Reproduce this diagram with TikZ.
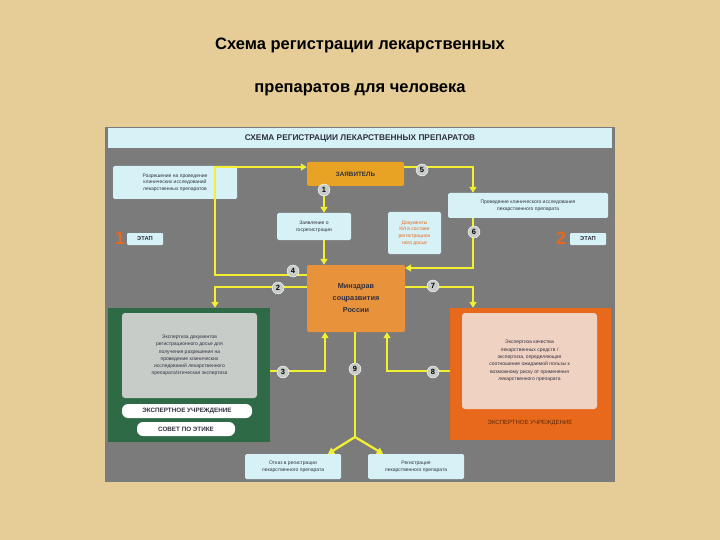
\documentclass[tikz,border=0pt]{standalone}
\usepackage{fontspec}
\setmainfont{Liberation Sans}
\usetikzlibrary{arrows.meta}
\definecolor{bg}{HTML}{E6CD98}
\definecolor{panel}{HTML}{7B7B7B}
\definecolor{lcyan}{HTML}{D6F2F6}
\definecolor{gold}{HTML}{E8A224}
\definecolor{mz}{HTML}{E8923C}
\definecolor{dgreen}{HTML}{2F6A46}
\definecolor{lgray}{HTML}{C8CCC8}
\definecolor{orng}{HTML}{E8681C}
\definecolor{pink}{HTML}{F0D2C2}
\definecolor{yel}{HTML}{F2F030}
\definecolor{txt}{HTML}{303040}
\tikzset{
 px/.style={x=1pt,y=-1pt},
 lbox/.style={fill=lcyan,rounded corners=1.5pt,align=center,text=txt,font=\fontsize{5}{6.6}\selectfont,inner sep=1pt},
 conn/.style={draw=yel,line width=2.3pt,-{Triangle[length=6pt,width=7pt]}},
 cline/.style={draw=yel,line width=2.3pt},
 num/.style={circle,fill=lgray,draw=white,line width=0.4pt,inner sep=0pt,minimum size=12pt,font=\bfseries\fontsize{7.5}{7.5}\selectfont,text=black},
 pill/.style={fill=white,rounded corners=6pt,font=\bfseries\fontsize{6.3}{6.3}\selectfont,text=txt,inner sep=0pt},
}
\begin{document}
\begin{tikzpicture}[px]
\useasboundingbox (0,0) rectangle (720,540);
\fill[bg] (0,0) rectangle (720,540);
\node[font=\bfseries\fontsize{16.5}{16.5}\selectfont] (t1) at (360,45) {Схема регистрации лекарственных};
\node[font=\bfseries\fontsize{16.5}{16.5}\selectfont] (t2) at (360,90) {препаратов для человека};
\fill[panel] (105,127) rectangle (615,482);
\node[fill=lcyan,minimum width=504pt,minimum height=20pt,inner sep=0pt,font=\bfseries\fontsize{8.3}{8.3}\selectfont,text=txt] (hdr) at (360,138) {СХЕМА РЕГИСТРАЦИИ ЛЕКАРСТВЕННЫХ ПРЕПАРАТОВ};
% nodes
\node[fill=gold,rounded corners=2pt,minimum width=97pt,minimum height=24pt,inner sep=0pt,font=\bfseries\fontsize{6.3}{6.3}\selectfont,text=txt] (zav) at (355.5,174) {ЗАЯВИТЕЛЬ};
\node[lbox,minimum width=124pt,minimum height=33pt] (perm) at (175,182.5) {Разрешение на проведение\\клинических исследований\\лекарственных препаратов};
\node[lbox,minimum width=74pt,minimum height=27pt] (zayav) at (314,226.5) {Заявление о\\госрегистрации};
\node[lbox,minimum width=53pt,minimum height=42pt,text=orng] (docs) at (414.5,233) {Документы\\КИ в составе\\регистрацион\\ного досье};
\node[lbox,minimum width=160pt,minimum height=25pt] (prov) at (528,205.5) {Проведение клинического исследования\\лекарственного препарата};
\node[fill=mz,rounded corners=2pt,minimum width=98pt,minimum height=67pt,inner sep=0pt,align=center,font=\bfseries\fontsize{7.3}{12}\selectfont,text=txt] (mzd) at (356,298.5) {Минздрав\\соцразвития\\России};
\node[text=orng,font=\bfseries\fontsize{18}{18}\selectfont,inner sep=0pt] (e1n) at (120,238) {1};
\node[fill=lcyan,rounded corners=1pt,minimum width=36pt,minimum height=12pt,inner sep=0pt,font=\bfseries\fontsize{5.8}{5.8}\selectfont,text=txt] (e1) at (145,239) {ЭТАП};
\node[text=orng,font=\bfseries\fontsize{18}{18}\selectfont,inner sep=0pt] (e2n) at (561,238) {2};
\node[fill=lcyan,rounded corners=1pt,minimum width=36pt,minimum height=12pt,inner sep=0pt,font=\bfseries\fontsize{5.8}{5.8}\selectfont,text=txt] (e2) at (588,239) {ЭТАП};
% green block
\node[fill=dgreen,minimum width=162pt,minimum height=134pt,inner sep=0pt] (gb) at (189,375) {};
\node[fill=lgray,rounded corners=3pt,minimum width=135pt,minimum height=85pt,inner sep=0pt,align=center,text=txt,font=\fontsize{5}{7.3}\selectfont] (gin) at (189.5,355.5) {Экспертиза документов\\регистрационного досье для\\получения разрешения на\\проведение клинических\\исследований лекарственного\\препарата/этическая экспертиза};
\node[pill,minimum width=130pt,minimum height=14pt] (p1) at (187,411) {ЭКСПЕРТНОЕ УЧРЕЖДЕНИЕ};
\node[pill,minimum width=98pt,minimum height=14pt] (p2) at (186,429) {СОВЕТ ПО ЭТИКЕ};
% orange block
\node[fill=orng,minimum width=161pt,minimum height=132pt,inner sep=0pt] (ob) at (530.5,374) {};
\node[fill=pink,rounded corners=3pt,minimum width=135pt,minimum height=96pt,inner sep=0pt,align=center,text=txt,font=\fontsize{5}{7.3}\selectfont] (oin) at (529.5,361) {Экспертиза качества\\лекарственных средств /\\экспертиза, определяющая\\соотношение ожидаемой пользы к\\возможному риску от применения\\лекарственного препарата};
\node[font=\fontsize{6}{6}\selectfont,text=orng!40!black] (ol) at (530,423) {ЭКСПЕРТНОЕ УЧРЕЖДЕНИЕ};
% bottom
\node[lbox,minimum width=96pt,minimum height=25pt] (otk) at (293,466.5) {Отказ в регистрации\\лекарственного препарата};
\node[lbox,minimum width=96pt,minimum height=25pt] (reg) at (416,466.5) {Регистрация\\лекарственного препарата};
% connectors
\draw[conn] (mzd.west |- 0,275) -- (215,275) -- (215,167) -- (zav.west |- 0,167);
\draw[conn] (zav.east |- 0,167) -- (473,167) -- (prov.north -| 473,0);
\draw[conn] (zav.south -| 324,0) -- (zayav.north -| 324,0);
\draw[conn] (zayav.south -| 324,0) -- (mzd.north -| 324,0);
\draw[conn] (prov.south -| 473,0) -- (473,268) -- (mzd.east |- 0,268);
\draw[conn] (mzd.west |- 0,287) -- (215,287) -- (gb.north -| 215,0);
\draw[conn] (mzd.east |- 0,287) -- (473,287) -- (ob.north -| 473,0);
\draw[conn] (gb.east |- 0,371) -- (325,371) -- (mzd.south -| 325,0);
\draw[conn] (ob.west |- 0,371) -- (387,371) -- (mzd.south -| 387,0);
\coordinate (br) at (355,437);
\draw[cline] (mzd.south -| 355,0) -- (br);
\draw[conn] (br) -- (otk.north -| 328,0);
\draw[conn] (br) -- (reg.north -| 383,0);
% numbers
\node[num] (n1) at (324,190) {1};
\node[num] (n2) at (278,288) {2};
\node[num] (n3) at (283,372) {3};
\node[num] (n4) at (293,271) {4};
\node[num] (n5) at (422,170) {5};
\node[num] (n6) at (474,232) {6};
\node[num] (n7) at (433,286) {7};
\node[num] (n8) at (433,372) {8};
\node[num] (n9) at (355,369) {9};
\end{tikzpicture}
\end{document}
